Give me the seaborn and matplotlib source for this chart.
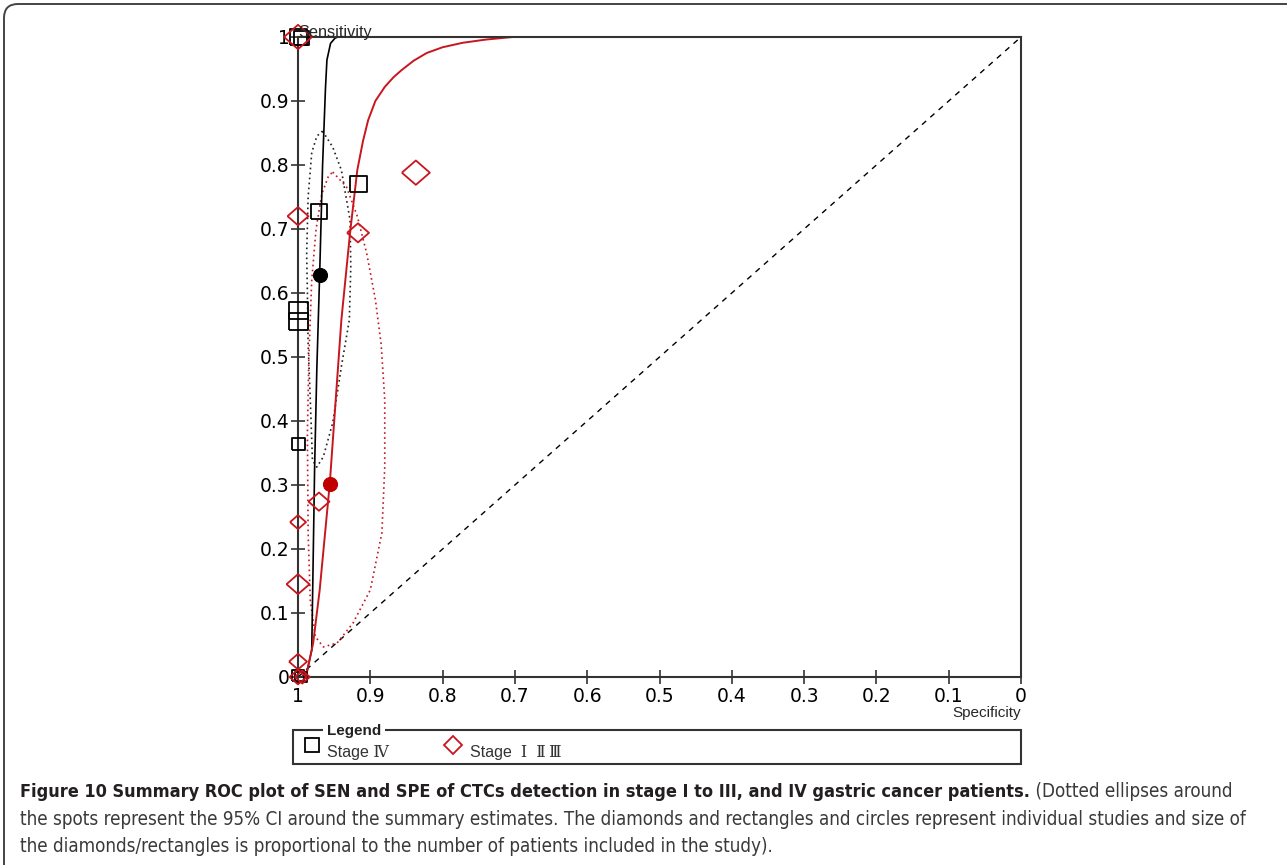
import numpy as np
import pandas as pd
import matplotlib
matplotlib.use("Agg")
import matplotlib.pyplot as plt
import matplotlib.transforms as mtransforms
from matplotlib import font_manager
from matplotlib.font_manager import FontProperties
from matplotlib.patches import FancyBboxPatch, Rectangle
from matplotlib.lines import Line2D
import seaborn as sns

# Individual studies - stage IV (specificity, sensitivity, relative study size)
stage4_spec = [1.000, 0.995, 0.971, 0.917, 1.000, 1.000, 1.000, 1.000, 0.996]
stage4_sens = [1.000, 0.998, 0.727, 0.770, 0.573, 0.555, 0.364, 0.002, 0.000]
stage4_weight = [17, 15, 16, 17, 19, 19, 13, 12, 12]

# Individual studies - stage I-III
stage13_spec = [1.000, 0.837, 0.917, 1.000, 0.971, 1.000, 1.000, 1.000, 1.000, 0.994]
stage13_sens = [1.000, 0.788, 0.694, 0.720, 0.274, 0.242, 0.145, 0.024, 0.000, 0.000]
stage13_weight = [28, 28, 22, 21, 21, 16, 23, 18, 17, 15]

# Summary estimates (stage IV, stage I-III)
summary_spec = [0.970, 0.956]
summary_sens = [0.628, 0.302]

# SROC curves
sroc4_spec = [0.995, 0.988, 0.981, 0.977, 0.974, 0.970, 0.966, 0.962, 0.960, 0.955, 0.949, 0.945]
sroc4_sens = [0.000, 0.006, 0.042, 0.328, 0.480, 0.631, 0.800, 0.920, 0.964, 0.990, 0.998, 1.000]
sroc13_spec = [0.995, 0.988, 0.979, 0.970, 0.956, 0.940, 0.928, 0.918, 0.910, 0.903, 0.893,
               0.880, 0.868, 0.857, 0.840, 0.822, 0.800, 0.772, 0.740, 0.703]
sroc13_sens = [0.000, 0.006, 0.053, 0.136, 0.303, 0.558, 0.694, 0.792, 0.838, 0.870, 0.900,
               0.922, 0.937, 0.948, 0.963, 0.975, 0.984, 0.991, 0.996, 1.000]

# 95% confidence regions (outline)
ci4_spec = [0.966, 0.952, 0.940, 0.928, 0.927, 0.929, 0.940, 0.952, 0.965, 0.974, 0.980,
            0.983, 0.986, 0.987, 0.988, 0.986, 0.981, 0.974, 0.966]
ci4_sens = [0.853, 0.828, 0.792, 0.714, 0.640, 0.558, 0.485, 0.397, 0.344, 0.328, 0.339,
            0.433, 0.520, 0.600, 0.662, 0.750, 0.819, 0.845, 0.853]
ci13_spec = [0.952, 0.933, 0.918, 0.905, 0.893, 0.885, 0.880, 0.880, 0.884, 0.900, 0.924,
             0.946, 0.965, 0.976, 0.983, 0.986, 0.987, 0.985, 0.981, 0.975, 0.967, 0.958, 0.952]
ci13_sens = [0.789, 0.766, 0.720, 0.662, 0.590, 0.520, 0.433, 0.328, 0.225, 0.136, 0.084,
             0.053, 0.047, 0.063, 0.120, 0.225, 0.380, 0.500, 0.620, 0.700, 0.755, 0.782, 0.789]

# chance line
chance_spec = [1.0, 0.0]
chance_sens = [0.0, 1.0]

tick_vals = [1.0, 0.9, 0.8, 0.7, 0.6, 0.5, 0.4, 0.3, 0.2, 0.1, 0.0]
x_labels = ["1", "0.9", "0.8", "0.7", "0.6", "0.5", "0.4", "0.3", "0.2", "0.1", "0"]
y_ticks = [0.0, 0.1, 0.2, 0.3, 0.4, 0.5, 0.6, 0.7, 0.8, 0.9, 1.0]
y_labels = ["0", "0.1", "0.2", "0.3", "0.4", "0.5", "0.6", "0.7", "0.8", "0.9", "1"]

RED = "#c8161e"
AXC = "#333333"
W, H = 1287, 865

sns.set_theme(style="white")
plt.rcParams["font.family"] = ["Liberation Sans", "DejaVu Sans"]

fig = plt.figure(figsize=(W / 100, H / 100), dpi=100)
ax = fig.add_axes([298 / W, 1 - 677 / H, 723 / W, 640 / H])


def px(x, y):
    return x / W, 1 - y / H


def msize(w):
    # marker width in pixels -> scatter area in points^2
    return (np.asarray(w) * 0.72) ** 2


square = [(-1.1, -1), (1.1, -1), (1.1, 1), (-1.1, 1), (-1.1, -1)]
diamond = [(-1.15, 0), (0, 1), (1.15, 0), (0, -1), (-1.15, 0)]

# chance diagonal
sns.lineplot(x=chance_spec, y=chance_sens, ax=ax, sort=False, estimator=None,
             color="black", lw=1.0, linestyle=(0, (4, 4)))

# confidence ellipses
sns.lineplot(x=ci4_spec, y=ci4_sens, ax=ax, sort=False, estimator=None,
             color="#222222", lw=1.2, linestyle=(0, (1, 2)))
sns.lineplot(x=ci13_spec, y=ci13_sens, ax=ax, sort=False, estimator=None,
             color=RED, lw=1.2, linestyle=(0, (1, 2)))

# SROC curves
sns.lineplot(x=sroc4_spec, y=sroc4_sens, ax=ax, sort=False, estimator=None,
             color="black", lw=1.2)
sns.lineplot(x=sroc13_spec, y=sroc13_sens, ax=ax, sort=False, estimator=None,
             color=RED, lw=1.4)

# individual studies
sns.scatterplot(x=stage4_spec, y=stage4_sens, ax=ax, marker=square,
                s=msize(stage4_weight), facecolor="none", edgecolor="black",
                linewidth=1.3, clip_on=False, zorder=5)
sns.scatterplot(x=stage13_spec, y=stage13_sens, ax=ax, marker=diamond,
                s=msize(stage13_weight), facecolor="none", edgecolor=RED,
                linewidth=1.3, clip_on=False, zorder=5)

# summary points
sns.scatterplot(x=summary_spec[:1], y=summary_sens[:1], ax=ax, s=msize(14),
                color="black", edgecolor="black", zorder=6, clip_on=False)
sns.scatterplot(x=summary_spec[1:], y=summary_sens[1:], ax=ax, s=msize(14),
                color="#c00000", edgecolor="#c00000", zorder=6, clip_on=False)

ax.set_xlim(1, 0)
ax.set_ylim(0, 1)
ax.set_xticks(tick_vals)
ax.set_xticklabels(x_labels, family="DejaVu Sans", fontsize=13.5)
ax.set_yticks(y_ticks)
ax.set_yticklabels(y_labels, family="DejaVu Sans", fontsize=13.5)
ax.tick_params(axis="both", direction="inout", length=10, width=1.2,
               color=AXC, labelcolor="black")
ax.tick_params(axis="x", bottom=True, pad=2)
ax.tick_params(axis="y", left=True, pad=1)
for sp in ax.spines.values():
    sp.set_visible(True)
    sp.set_color(AXC)
    sp.set_linewidth(1.5)
ax.set_facecolor("white")
ax.grid(False)
ax.set_xlabel("")
ax.set_ylabel("")

ax.text(1.0, 1.0, "Sensitivity", transform=ax.transData, ha="left", va="baseline",
        fontsize=11.7, zorder=7)
fig.text(*px(1021, 717), "Specificity", ha="right", va="baseline", fontsize=11)

# legend box
x0, y0 = px(293, 764)
x1, y1 = px(1021, 730)
fig.add_artist(Rectangle((x0, y0), x1 - x0, y1 - y0, transform=fig.transFigure,
                         fill=False, edgecolor=AXC, lw=1.5))
fig.text(*px(327, 731), "Legend", ha="left", va="center", fontsize=11,
         fontweight="bold", color="#222222",
         bbox=dict(facecolor="white", edgecolor="none", pad=3))
fig.add_artist(Line2D([312 / W], [1 - 745 / H], marker="s", markersize=9.5,
                      markerfacecolor="none", markeredgecolor="black", mew=1.3,
                      transform=fig.transFigure))
fig.text(*px(327, 757), "Stage Ⅳ", ha="left", va="baseline", fontsize=11.5,
         family=["Liberation Sans", "DejaVu Serif"], color="#333333")
fig.add_artist(Line2D([453 / W], [1 - 745 / H], marker="D", markersize=9,
                      markerfacecolor="none", markeredgecolor=RED, mew=1.3,
                      transform=fig.transFigure))
fig.text(*px(470, 757), "Stage  Ⅰ  Ⅱ\u2009Ⅲ", ha="left", va="baseline", fontsize=11.5,
         family=["Liberation Sans", "DejaVu Serif"], color="#333333")

# rounded page frame
fig.add_artist(FancyBboxPatch((4, -40), 1400, H - 4 + 40,
                              boxstyle="round,pad=0,rounding_size=14",
                              transform=mtransforms.IdentityTransform(),
                              fill=False, edgecolor="#444444", lw=1.4))

# caption font: a condensed sans if one is installed, Open Sans otherwise
narrow = [f for f in font_manager.fontManager.ttflist
          if ("Narrow" in f.name or "Condensed" in f.name
              or str(f.stretch) in ("condensed", "semi-condensed", "extra-condensed"))
          and f.style == "normal" and "Mono" not in f.name and "Serif" not in f.name]
reg = [f for f in narrow if f.weight in (400, "normal", "regular", "book")]
bld = [f for f in narrow if f.weight in (700, "bold")]
if reg:
    fp_reg = FontProperties(fname=reg[0].fname)
    same = [f for f in bld if f.name == reg[0].name]
    fp_bold = FontProperties(fname=(same or bld or reg)[0].fname)
else:
    fp_reg = FontProperties(family="Open Sans")
    fp_bold = FontProperties(family="Open Sans", weight="bold")

bold_txt = ("Figure 10 Summary ROC plot of SEN and SPE of CTCs detection in stage I to III, "
            "and IV gastric cancer patients.")
line1_rest = " (Dotted ellipses around"
line2 = ("the spots represent the 95% CI around the summary estimates. The diamonds and "
         "rectangles and circles represent individual studies and size of")
line3 = "the diamonds/rectangles is proportional to the number of patients included in the study)."

renderer = fig.canvas.get_renderer()
fp_probe = fp_reg.copy()
fp_probe.set_size(13)
probe = fig.text(0, 0, line2, fontproperties=fp_probe)
wpx = probe.get_window_extent(renderer).width
probe.remove()
cap_size = min(13.5, 13 * 1230 / wpx)
fp_reg.set_size(cap_size)

# bold run should end near x=1028
fp_probe = fp_bold.copy()
fp_probe.set_size(cap_size)
probe = fig.text(0, 0, bold_txt, fontproperties=fp_probe)
bw = probe.get_window_extent(renderer).width
probe.remove()
fp_bold.set_size(min(cap_size, cap_size * 1008 / bw))

t_bold = fig.text(*px(20, 797), bold_txt, fontproperties=fp_bold,
                  color="#231f20", va="baseline")
bx = t_bold.get_window_extent(renderer).x1
fig.text(bx / W, 1 - 797 / H, line1_rest, fontproperties=fp_reg,
         color="#3a3a3a", va="baseline")
fig.text(*px(20, 825), line2, fontproperties=fp_reg, color="#3a3a3a", va="baseline")
fig.text(*px(20, 852), line3, fontproperties=fp_reg, color="#3a3a3a", va="baseline")

fig.savefig("out.png", dpi=100, facecolor="white")
